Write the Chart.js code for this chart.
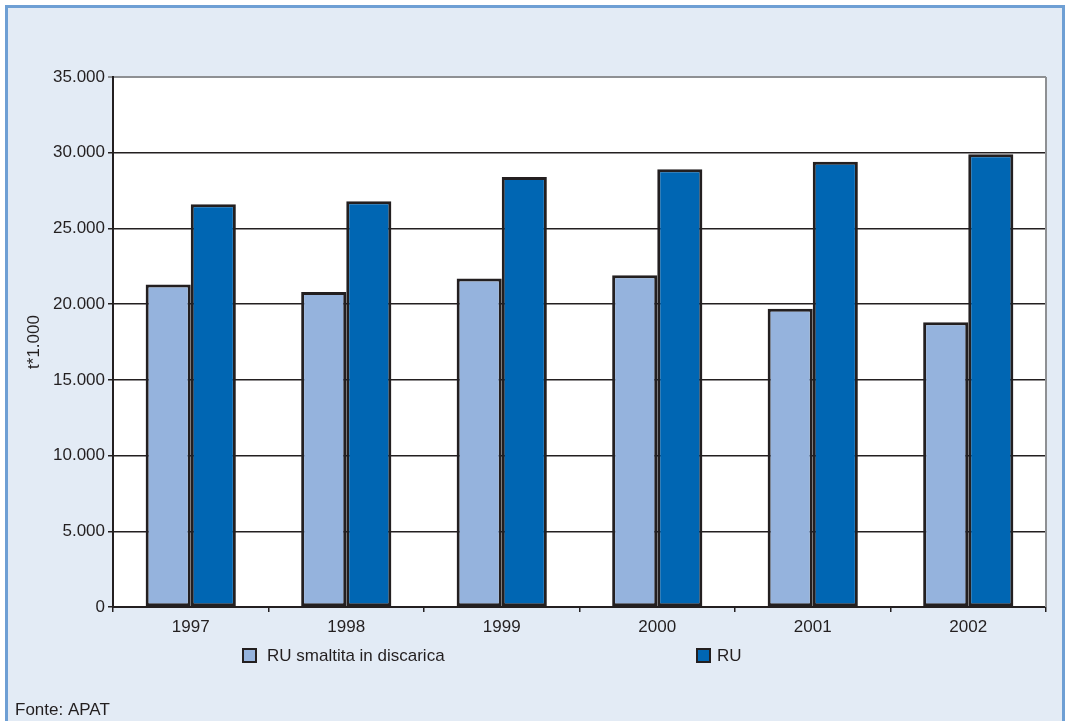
<!DOCTYPE html>
<html>
<head>
<meta charset="utf-8">
<script src="https://cdn.jsdelivr.net/npm/chart.js@4.4.0/dist/chart.umd.min.js"></script>
<style>
  html, body { margin: 0; padding: 0; background: #ffffff; }
  #wrap { position: relative; width: 1065px; height: 721px; overflow: hidden; }
  #frame { position: absolute; left: 5px; top: 5px; width: 1054px; height: 740px;
           background: #e3ebf5; border: 3px solid #6e9fd4; border-bottom: none; }
  #c { position: absolute; left: 0; top: 0; }
</style>
</head>
<body>
<div id="wrap">
  <div id="frame"></div>
  <canvas id="c" width="1065" height="721"></canvas>
</div>
<script>
const categories = ['1997', '1998', '1999', '2000', '2001', '2002'];
const ruDiscarica = [21300, 20800, 21700, 21900, 19700, 18800];
const ruTotale = [26600, 26800, 28400, 28900, 29400, 29900];
const seriesLabels = ['RU smaltita in discarica', 'RU'];
const seriesColors = ['#95b3dd', '#0066b3'];
const yAxisTitle = 't*1.000';
const sourceNote = 'Fonte: APAT';

const FONT = "'Liberation Sans', Arial, sans-serif";
const TEXT = '#231f20';
const fmt = v => String(v).replace(/\B(?=(\d{3})+(?!\d))/g, '.');

const decor = {
  id: 'decor',
  beforeDraw(chart) {
    const {ctx, chartArea: a} = chart;
    ctx.save();
    ctx.fillStyle = '#ffffff';
    ctx.fillRect(a.left, a.top, a.right - a.left, a.bottom - a.top);
    ctx.restore();
  },
  afterDraw(chart) {
    const {ctx, chartArea: a} = chart;
    ctx.save();
    // right border of plot area
    ctx.strokeStyle = '#8e9093';
    ctx.lineWidth = 2;
    ctx.beginPath();
    ctx.moveTo(a.right, a.top);
    ctx.lineTo(a.right, a.bottom);
    ctx.stroke();
    // legend
    ctx.font = '17px ' + FONT;
    ctx.textBaseline = 'middle';
    ctx.fillStyle = TEXT;
    const items = [{x: 243, tx: 267}, {x: 697, tx: 717}];
    chart.data.datasets.forEach((ds, i) => {
      const it = items[i];
      ctx.fillStyle = ds.backgroundColor;
      ctx.fillRect(it.x, 649, 13, 13);
      ctx.strokeStyle = TEXT;
      ctx.lineWidth = 2;
      ctx.strokeRect(it.x, 649, 13, 13);
      ctx.fillStyle = TEXT;
      ctx.fillText(ds.label, it.tx, 656);
    });
    // source
    ctx.textBaseline = 'alphabetic';
    ctx.fillText(sourceNote, 15, 715);
    ctx.restore();
  }
};

new Chart(document.getElementById('c'), {
  type: 'bar',
  data: {
    labels: categories,
    datasets: [
      { label: seriesLabels[0], data: ruDiscarica, backgroundColor: seriesColors[0],
        borderColor: TEXT, borderWidth: 3, borderSkipped: false,
        categoryPercentage: 0.58, barPercentage: 1.0 },
      { label: seriesLabels[1], data: ruTotale, backgroundColor: seriesColors[1],
        borderColor: TEXT, borderWidth: 3, borderSkipped: false,
        categoryPercentage: 0.58, barPercentage: 1.0 }
    ]
  },
  options: {
    responsive: false,
    animation: false,
    devicePixelRatio: 1,
    layout: { padding: { left: 0, top: 77, right: 19, bottom: 0 } },
    plugins: { legend: { display: false }, tooltip: { enabled: false } },
    scales: {
      x: {
        afterFit: s => { s.height = 114; },
        grid: { offset: true, drawOnChartArea: false, drawTicks: true, tickLength: 5,
                color: TEXT, lineWidth: 1.5 },
        border: { color: TEXT, width: 2 },
        ticks: { font: { family: FONT, size: 17 }, color: TEXT, padding: 5 }
      },
      y: {
        min: 0, max: 35000,
        afterFit: s => { s.width = 113; },
        ticks: { stepSize: 5000, callback: v => fmt(v), font: { family: FONT, size: 17 },
                 color: TEXT, padding: 3 },
        grid: { color: c => (c.tick && c.tick.value === 35000) ? '#8e9093' : TEXT,
                lineWidth: c => (c.tick && c.tick.value === 35000) ? 2 : 1.5,
                tickLength: 5, drawTicks: true },
        border: { color: TEXT, width: 2 },
        title: { display: true, text: yAxisTitle, font: { family: FONT, size: 17 },
                 color: TEXT, padding: { top: 24, bottom: 0 } }
      }
    }
  },
  plugins: [decor]
});
</script>
</body>
</html>
